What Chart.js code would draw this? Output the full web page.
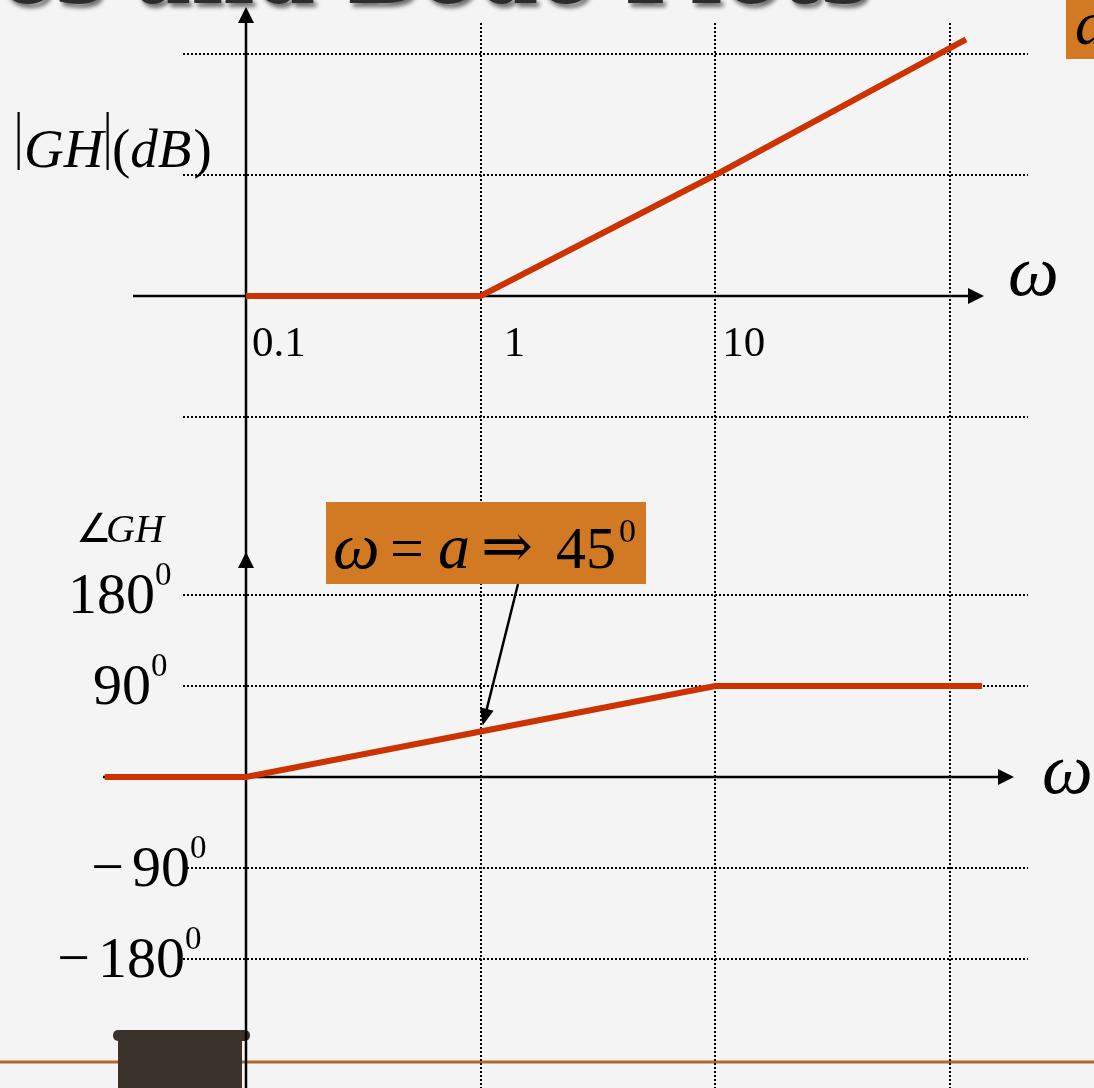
<!DOCTYPE html>
<html>
<head>
<meta charset="utf-8">
<script src="https://cdn.jsdelivr.net/npm/chart.js@4.4.1/dist/chart.umd.min.js"></script>
<style>
  html, body { margin: 0; padding: 0; background: #f4f4f4; overflow: hidden; }
  canvas { display: block; }
</style>
</head>
<body>
<canvas id="bode" width="1094" height="1088"></canvas>
<script>
// Asymptotic Bode plot of a single zero GH = 1 + jω/a, corner at ω = a = 1
const magFreq = [0.1, 1, 10, 117];
const magDb = [0, 0, 20, 42.4];
const phaseFreq = [0.025, 0.1, 1, 10, 137];
const phaseDeg = [0, 0, 45, 90, 90];

const freqTickValues = [0.1, 1, 10];
const freqTickLabels = ['0.1', '1', '10'];
const freqGridValues = [1, 10, 100];
const magGridValues = [40, 20, -20];
const phaseTickValues = [180, 90, -90, -180];
const phaseTickLabels = ['180', '90', '90', '180'];
const phaseTickNegative = [false, false, true, true];

// page layout (pixels)
const W = 1094, H = 1088;
const AXIS_X = 246;        // where ω = 0.1 sits
const DECADE = 234.67;     // pixels per decade
const MAG_ZERO = 296, MAG_STEP = 121;      // 0 dB line, pixels per 20 dB
const PHASE_ZERO = 777, PHASE_STEP = 91;  // 0° line, pixels per 90°

const RED = '#CC3300';
const ORANGE = '#D27A23';
const SERIF = '"Liberation Serif", "Times New Roman", serif';

function arrowHead(ctx, tipX, tipY, angle, len, half) {
  ctx.save();
  ctx.translate(tipX, tipY);
  ctx.rotate(angle);
  ctx.beginPath();
  ctx.moveTo(0, 0);
  ctx.lineTo(-len, -half);
  ctx.lineTo(-len, half);
  ctx.closePath();
  ctx.fill();
  ctx.restore();
}

function dotted(ctx, x1, y1, x2, y2) {
  ctx.save();
  ctx.strokeStyle = '#000';
  ctx.lineWidth = 2;
  ctx.setLineDash([2, 2]);
  ctx.beginPath();
  ctx.moveTo(x1, y1);
  ctx.lineTo(x2, y2);
  ctx.stroke();
  ctx.restore();
}

const bodeDecor = {
  id: 'bodeDecor',
  beforeDraw(chart) {
    const ctx = chart.ctx;
    ctx.save();
    ctx.fillStyle = '#f4f4f4';
    ctx.fillRect(0, 0, W, H);

    // slide heading, mostly above the visible area
    const tail = 'es and Bode Plots';
    ctx.font = 'bold 80px "DejaVu Serif"';
    const size = 80 * 870 / ctx.measureText(tail).width;
    ctx.font = 'bold ' + size.toFixed(1) + 'px "DejaVu Serif"';
    ctx.textAlign = 'right';
    ctx.textBaseline = 'alphabetic';
    ctx.shadowColor = 'rgba(0,0,0,0.55)';
    ctx.shadowOffsetX = 3;
    ctx.shadowOffsetY = 4;
    ctx.shadowBlur = 4;
    ctx.fillStyle = '#2c2c2c';
    ctx.fillText('Poles, Zeroes and Bode Plots', 870, 3);
    ctx.restore();

    // corner label box
    ctx.save();
    ctx.fillStyle = ORANGE;
    ctx.fillRect(1066, 0, W - 1066, 59);
    ctx.fillStyle = '#000';
    ctx.font = 'italic 62px ' + SERIF;
    ctx.fillText('a', 1075, 44);
    ctx.restore();
  },
  beforeDatasetsDraw(chart) {
    const ctx = chart.ctx;
    const xs = chart.scales.x, ym = chart.scales.yMag, yp = chart.scales.yPhase;
    const x0 = xs.getPixelForValue(0.1);

    // footer rule and bookmark
    ctx.save();
    ctx.fillStyle = '#B9652F';
    ctx.fillRect(0, 1060.5, W, 3);
    ctx.fillStyle = '#3b322c';
    ctx.fillRect(118, 1036, 124, H - 1036);
    ctx.beginPath();
    ctx.roundRect(113, 1030, 137, 11, 5);
    ctx.fill();
    ctx.restore();

    // dotted grid
    freqGridValues.forEach(v => {
      const px = Math.round(xs.getPixelForValue(v));
      dotted(ctx, px, 23, px, H);
    });
    magGridValues.forEach(v => {
      const py = Math.round(ym.getPixelForValue(v));
      dotted(ctx, 183, py, 1028, py);
    });
    phaseTickValues.forEach(v => {
      const py = Math.round(yp.getPixelForValue(v));
      dotted(ctx, 183, py, 1028, py);
    });

    // axes
    ctx.save();
    ctx.strokeStyle = '#000';
    ctx.fillStyle = '#000';
    ctx.lineWidth = 2.5;
    const yM0 = ym.getPixelForValue(0);
    const yP0 = yp.getPixelForValue(0);
    ctx.beginPath();
    ctx.moveTo(x0, 12); ctx.lineTo(x0, H);
    ctx.moveTo(133, yM0); ctx.lineTo(972, yM0);
    ctx.moveTo(103, yP0); ctx.lineTo(1002, yP0);
    ctx.stroke();
    arrowHead(ctx, x0, 7, -Math.PI / 2, 16, 8);
    arrowHead(ctx, x0, 552, -Math.PI / 2, 16, 8);
    arrowHead(ctx, 984, yM0, 0, 16, 8);
    arrowHead(ctx, 1014, yP0, 0, 16, 8);
    ctx.restore();

    // text labels
    ctx.save();
    ctx.fillStyle = '#000';
    ctx.textBaseline = 'alphabetic';
    ctx.textAlign = 'left';

    // |GH|(dB)
    ctx.fillRect(17.5, 112, 2.2, 58);
    ctx.fillRect(106.5, 112, 2.2, 58);
    ctx.font = 'italic 55px ' + SERIF;
    ctx.fillText('GH', 24, 167);
    let cx = 112;
    ctx.font = '55px ' + SERIF;
    ctx.fillText('(', cx, 167); cx += ctx.measureText('(').width;
    ctx.font = 'italic 55px ' + SERIF;
    ctx.fillText('dB', cx, 167); cx += ctx.measureText('dB').width + 2;
    ctx.font = '55px ' + SERIF;
    ctx.fillText(')', cx, 167);

    // ∠GH
    ctx.font = '40px ' + SERIF;
    ctx.fillText('∠', 76, 542);
    ctx.font = 'italic 40px ' + SERIF;
    ctx.fillText('GH', 106, 542);

    // ω on both frequency axes
    ctx.font = 'italic 72px ' + SERIF;
    ctx.fillText('ω', 1008, 295);
    ctx.fillText('ω', 1042, 793);

    // frequency tick labels
    const tickShift = [6, 23, 7];
    ctx.font = '43px ' + SERIF;
    freqTickValues.forEach((v, i) => {
      ctx.fillText(freqTickLabels[i], xs.getPixelForValue(v) + tickShift[i], 356);
    });

    // phase tick labels with degree superscript
    const digitLeft = [68, 93, 132, 98];
    phaseTickValues.forEach((v, i) => {
      const base = yp.getPixelForValue(v) + 18;
      ctx.font = '58px ' + SERIF;
      const txt = phaseTickLabels[i];
      ctx.fillText(txt, digitLeft[i], base);
      const w = ctx.measureText(txt).width;
      if (phaseTickNegative[i]) {
        ctx.textAlign = 'right';
        ctx.fillText('−', digitLeft[i] - 8, base);
        ctx.textAlign = 'left';
      }
      ctx.font = '33px ' + SERIF;
      ctx.fillText('0', digitLeft[i] + w, base - 28);
    });
    ctx.restore();
  },
  afterDatasetsDraw(chart) {
    const ctx = chart.ctx;
    const xs = chart.scales.x, yp = chart.scales.yPhase;

    // callout: corner frequency gives 45°
    ctx.save();
    ctx.fillStyle = ORANGE;
    ctx.fillRect(326, 502, 320, 82);
    ctx.fillStyle = '#000';
    ctx.textBaseline = 'alphabetic';
    ctx.font = 'italic 66px ' + SERIF;
    ctx.fillText('ω', 333, 568);
    ctx.font = '60px ' + SERIF;
    ctx.fillText('=', 390, 568);
    ctx.font = 'italic 64px ' + SERIF;
    ctx.fillText('a', 438, 568);
    ctx.font = '62px "DejaVu Serif"';
    ctx.fillText('⇒', 481, 567);
    ctx.font = '60px ' + SERIF;
    ctx.fillText('45', 556, 568);
    ctx.font = '34px ' + SERIF;
    ctx.fillText('0', 619, 542);

    const tipX = xs.getPixelForValue(1) + 2;
    const tipY = yp.getPixelForValue(45) - 6;
    const sx = 518, sy = 584;
    const ang = Math.atan2(tipY - sy, tipX - sx);
    ctx.strokeStyle = '#000';
    ctx.lineWidth = 2.5;
    ctx.beginPath();
    ctx.moveTo(sx, sy);
    ctx.lineTo(tipX - 14 * Math.cos(ang), tipY - 14 * Math.sin(ang));
    ctx.stroke();
    arrowHead(ctx, tipX, tipY, ang, 17, 7);
    ctx.restore();
  }
};

const toPoints = (xsArr, ysArr) => xsArr.map((x, i) => ({ x: x, y: ysArr[i] }));

new Chart(document.getElementById('bode'), {
  type: 'line',
  data: {
    datasets: [
      {
        label: '|GH| (dB)',
        data: toPoints(magFreq, magDb),
        yAxisID: 'yMag',
        borderColor: RED,
        borderWidth: 6,
        borderCapStyle: 'butt',
        borderJoinStyle: 'miter',
        pointRadius: 0,
        tension: 0,
        fill: false
      },
      {
        label: '∠GH',
        data: toPoints(phaseFreq, phaseDeg),
        yAxisID: 'yPhase',
        borderColor: RED,
        borderWidth: 6,
        borderCapStyle: 'butt',
        borderJoinStyle: 'miter',
        pointRadius: 0,
        tension: 0,
        fill: false
      }
    ]
  },
  options: {
    responsive: false,
    animation: false,
    devicePixelRatio: 1,
    layout: { padding: 0 },
    plugins: {
      legend: { display: false },
      tooltip: { enabled: false },
      title: { display: false }
    },
    scales: {
      x: {
        type: 'logarithmic',
        display: false,
        bounds: 'data',
        min: 0.1 * Math.pow(10, -AXIS_X / DECADE),
        max: 0.1 * Math.pow(10, (W - AXIS_X) / DECADE)
      },
      yMag: {
        type: 'linear',
        display: false,
        bounds: 'data',
        min: -(H - MAG_ZERO) / MAG_STEP * 20,
        max: MAG_ZERO / MAG_STEP * 20
      },
      yPhase: {
        type: 'linear',
        display: false,
        bounds: 'data',
        min: -(H - PHASE_ZERO) / PHASE_STEP * 90,
        max: PHASE_ZERO / PHASE_STEP * 90
      }
    }
  },
  plugins: [bodeDecor]
});
</script>
</body>
</html>
